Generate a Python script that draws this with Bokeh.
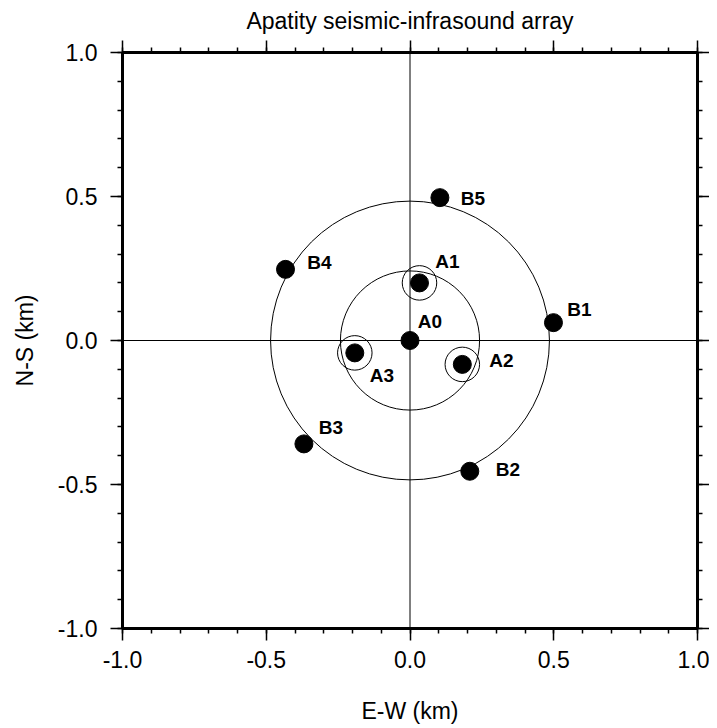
from bokeh.plotting import figure
from bokeh.models import (ColumnDataSource, LinearAxis, SingleIntervalTicker,
                          PrintfTickFormatter, CustomJSTickFormatter, Range1d, Span)
from bokeh.core.properties import value
from bokeh.embed import file_html
from bokeh.resources import INLINE

# ---- data ----
station = ["A0", "A1", "A2", "A3", "B1", "B2", "B3", "B4", "B5"]
ew_km = [0.0, 0.033, 0.182, -0.192, 0.499, 0.208, -0.369, -0.433, 0.104]
ns_km = [0.0, 0.200, -0.083, -0.043, 0.062, -0.454, -0.359, 0.247, 0.496]
ring_radius_km = [0.242, 0.485]        # inner / outer rings centred at origin
infrasound = ["A1", "A2", "A3"]        # stations with an extra small ring
small_ring_km = 0.06

# label offsets in screen px (style)
lab_dx = [20, 28, 39, 27, 26, 38, 27, 34, 33]
lab_dy = [-19, -21, -4, 23, -13, -2, -16, -7, 1]

FONT = "Liberation Sans"

p = figure(frame_width=575, frame_height=576,
           x_range=Range1d(-1, 1), y_range=Range1d(-1, 1),
           output_backend="svg", toolbar_location=None,
           min_border_left=122, min_border_right=12,
           min_border_top=52, min_border_bottom=98)
p.grid.visible = False
p.outline_line_color = "black"
p.outline_line_width = 3
p.background_fill_color = "white"
p.border_fill_color = "white"

def style(ax, labels=True, standoff=8):
    ax.ticker = SingleIntervalTicker(interval=0.5, num_minor_ticks=5)
    if labels:
        ax.formatter = PrintfTickFormatter(format="%.1f")
    else:
        ax.formatter = CustomJSTickFormatter(code="return ''")
    ax.axis_line_color = "black"
    ax.axis_line_width = 3
    ax.major_tick_out = 12
    ax.major_tick_in = 0
    ax.minor_tick_out = 5
    ax.minor_tick_in = 0
    ax.major_tick_line_color = "black"
    ax.minor_tick_line_color = "black"
    ax.major_tick_line_width = 1.5
    ax.minor_tick_line_width = 1.5
    ax.major_label_text_font = FONT
    ax.major_label_text_font_size = "23px" if labels else "0px"
    ax.major_label_text_color = "black"
    ax.major_label_standoff = standoff
    ax.axis_label_text_font = FONT
    ax.axis_label_text_font_size = "23px"
    ax.axis_label_text_font_style = "normal"
    ax.axis_label_text_color = "black"

xb = p.xaxis[0]
yl = p.yaxis[0]
style(xb, standoff=10)
style(yl, standoff=13)
xb.axis_label = "E-W (km)"
xb.axis_label_standoff = 27
yl.axis_label = "N-S (km)"
yl.axis_label_standoff = 17

xa = LinearAxis()
style(xa, labels=False)
xa.axis_label = "Apatity seismic-infrasound array"
xa.axis_label_standoff = 7
p.add_layout(xa, "above")

yr = LinearAxis()
style(yr, labels=False)
p.add_layout(yr, "right")

# zero lines
p.add_layout(Span(location=0, dimension="width", line_color="black", line_width=1))
p.add_layout(Span(location=0, dimension="height", line_color="black", line_width=1))

# big rings
p.circle(x=[0] * len(ring_radius_km), y=[0] * len(ring_radius_km),
         radius=ring_radius_km, radius_dimension="x",
         fill_color=None, line_color="black", line_width=1)

# small rings around infrasound stations
idx = [station.index(s) for s in infrasound]
p.circle(x=[ew_km[i] for i in idx], y=[ns_km[i] for i in idx],
         radius=small_ring_km, radius_dimension="x",
         fill_color=None, line_color="black", line_width=1)

src = ColumnDataSource(dict(x=ew_km, y=ns_km, name=station, dx=lab_dx, dy=lab_dy))
p.scatter("x", "y", source=src, size=18, fill_color="black", line_color="black")
p.text("x", "y", text="name", source=src, x_offset="dx", y_offset="dy",
       text_font=value(FONT), text_font_style="bold", text_font_size="19px",
       text_align="center", text_baseline="middle", text_color="black")

open("out.html", "w").write(file_html(p, INLINE))
